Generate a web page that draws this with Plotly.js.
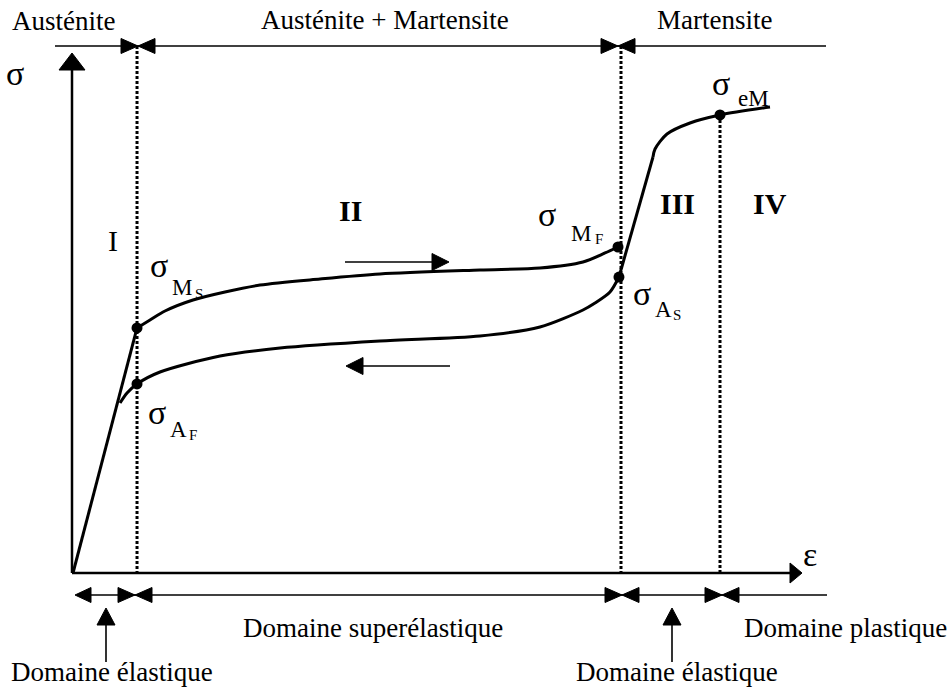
<!DOCTYPE html>
<html><head><meta charset="utf-8">
<script src="https://cdn.plot.ly/plotly-3.0.1.min.js"></script>
<style>html,body{margin:0;padding:0;background:#fff}#c{width:952px;height:689px}</style>
</head><body><div id="c"></div>
<script>
// ---- data (strain ε, stress σ in arbitrary schematic units) ----
const elasticStrain = [0, 0.877];
const elasticStress = [0, 4.712];
const loadStrain = [0.877, 1.055, 1.260, 1.644, 2.082, 2.562, 3.384, 4.205, 5.575, 6.397, 6.986, 7.288, 7.466];
const loadStress = [4.712, 4.865, 5.038, 5.250, 5.404, 5.538, 5.654, 5.750, 5.827, 5.865, 5.981, 6.154, 6.269];
const martElasticStrain = [7.479, 7.945];
const martElasticStress = [5.692, 8.000];
const martPlasticStrain = [7.945, 7.973, 8.137, 8.452, 8.863, 9.548];
const martPlasticStress = [8.000, 8.154, 8.442, 8.654, 8.808, 8.962];
const unloadStrain = [7.479, 7.356, 7.151, 6.986, 6.397, 5.575, 4.205, 2.836, 2.014, 1.192, 0.877, 0.740, 0.644];
const unloadStress = [5.692, 5.404, 5.192, 5.058, 4.731, 4.558, 4.462, 4.327, 4.173, 3.865, 3.635, 3.462, 3.269];
const pointNames = ['MS', 'AF', 'MF', 'AS', 'eM'];
const pointStrain = [0.877, 0.877, 7.466, 7.479, 8.863];
const pointStress = [4.712, 3.635, 6.269, 5.692, 8.808];
const topLabels = ['Austénite', 'Austénite + Martensite', 'Martensite'];
const zoneLabels = ['I', 'II', 'III', 'IV'];
const bottomLabels = ['Domaine élastique', 'Domaine superélastique', 'Domaine élastique', 'Domaine plastique'];

// ---- layout helpers (pixel -> axis units) ----
const X = px => (px - 73) / 73;
const Y = py => (573 - py) / 52;
const FONT = 'Liberation Serif, Times New Roman, serif';
const K = '#000';

function tri(tx, ty, dir, len, half) {
  let p;
  if (dir === 'r') p = [[tx, ty], [tx - len, ty - half], [tx - len, ty + half]];
  else if (dir === 'l') p = [[tx, ty], [tx + len, ty - half], [tx + len, ty + half]];
  else p = [[tx, ty], [tx - half, ty + len], [tx + half, ty + len]];
  return {type: 'path', xref: 'x', yref: 'y', layer: 'above',
    path: 'M' + p.map(q => X(q[0]) + ',' + Y(q[1])).join(' L') + ' Z',
    fillcolor: K, line: {color: K, width: 1}};
}
function seg(x0, y0, x1, y1, w, dash) {
  return {type: 'line', xref: 'x', yref: 'y', layer: 'above', x0: X(x0), y0: Y(y0), x1: X(x1), y1: Y(y1),
    line: {color: K, width: w, dash: dash || 'solid'}};
}
function txt(t, px, py, size, extra) {
  return Object.assign({text: t, x: X(px), y: Y(py), xref: 'x', yref: 'y', showarrow: false,
    xanchor: 'center', yanchor: 'middle', font: {family: FONT, size: size, color: K}}, extra || {});
}

const lineStyle = {color: K, width: 3};
const traces = [
  {x: elasticStrain, y: elasticStress, mode: 'lines', line: lineStyle},
  {x: loadStrain, y: loadStress, mode: 'lines', line: Object.assign({shape: 'spline', smoothing: 0.8}, lineStyle)},
  {x: martElasticStrain, y: martElasticStress, mode: 'lines', line: lineStyle},
  {x: martPlasticStrain, y: martPlasticStress, mode: 'lines', line: Object.assign({shape: 'spline', smoothing: 0.8}, lineStyle)},
  {x: unloadStrain, y: unloadStress, mode: 'lines', line: Object.assign({shape: 'spline', smoothing: 0.8}, lineStyle)},
  {x: pointStrain, y: pointStress, text: pointNames, mode: 'markers', marker: {color: K, size: 11}}
];

const dot = '3px,2px';
const shapes = [
  // axes
  seg(72, 573, 72, 69, 2.5), tri(72, 53, 'u', 17, 13),
  seg(72, 573, 792, 573, 2.5), tri(802, 573, 'r', 12, 10),
  // dotted verticals
  {type: 'line', xref: 'x', yref: 'y', x0: pointStrain[0], x1: pointStrain[0], y0: Y(46), y1: 0, line: {color: K, width: 3, dash: dot}},
  {type: 'line', xref: 'x', yref: 'y', x0: X(621), x1: X(621), y0: Y(46), y1: 0, line: {color: K, width: 3, dash: dot}},
  {type: 'line', xref: 'x', yref: 'y', x0: pointStrain[4], x1: pointStrain[4], y0: pointStress[4], y1: 0, line: {color: K, width: 3, dash: dot}},
  // top phase line
  seg(55, 46, 826, 46, 1.6),
  tri(138, 46, 'r', 17, 7.5), tri(138, 46, 'l', 17, 7.5),
  tri(618, 46, 'r', 17, 7.5), tri(618, 46, 'l', 17, 7.5),
  // bottom domain line
  seg(80, 595, 827, 595, 1.6),
  tri(75, 595, 'l', 16, 7.5),
  tri(135, 595, 'r', 17, 7.5), tri(135, 595, 'l', 17, 7.5),
  tri(622, 595, 'r', 17, 7.5), tri(622, 595, 'l', 17, 7.5),
  tri(722, 595, 'r', 17, 7.5), tri(722, 595, 'l', 17, 7.5),
  // small up arrows
  seg(106, 662, 106, 622, 1.6), tri(106, 608, 'u', 17, 9),
  seg(672, 662, 672, 622, 1.6), tri(672, 608, 'u', 17, 9),
  // loading / unloading arrows
  seg(345, 262, 434, 262, 1.6), tri(449, 262, 'r', 17, 8.5),
  seg(361, 366, 450, 366, 1.6), tri(346, 366, 'l', 17, 8.5)
];

const ann = [
  txt(topLabels[0], 63, 21, 27), txt(topLabels[1], 385, 20, 27), txt(topLabels[2], 714, 20, 27),
  txt('σ', 15, 73, 34), txt('ε', 810, 554, 34),
  txt(zoneLabels[0], 113, 240, 30),
  txt('<b>' + zoneLabels[1] + '</b>', 350, 210, 30),
  txt('<b>' + zoneLabels[2] + '</b>', 677, 203, 30),
  txt('<b>' + zoneLabels[3] + '</b>', 770, 203, 30),
  txt(bottomLabels[0], 112, 672, 27), txt(bottomLabels[1], 373, 628, 27),
  txt(bottomLabels[2], 677, 672, 27), txt(bottomLabels[3], 845, 628, 27),
  // σ_MS
  txt('σ', 159, 265, 34), txt('M', 182, 287, 23), txt('S', 199, 294, 15),
  // σ_AF
  txt('σ', 157, 412, 34), txt('A', 178, 429, 23), txt('F', 193, 435, 15),
  // σ_MF
  txt('σ', 547, 214, 34), txt('M', 581, 233, 23), txt('F', 599, 239, 15),
  // σ_AS
  txt('σ', 642, 293, 34), txt('A', 663, 309, 23), txt('S', 677, 315, 15),
  // σ_eM
  txt('σ', 721, 83, 34), txt('eM', 753, 98, 23)
];

const layout = {
  width: 952, height: 689, margin: {l: 0, r: 0, t: 0, b: 0},
  paper_bgcolor: '#fff', plot_bgcolor: '#fff', showlegend: false,
  xaxis: {range: [X(0), X(952)], visible: false, fixedrange: true},
  yaxis: {range: [Y(689), Y(0)], visible: false, fixedrange: true},
  shapes: shapes, annotations: ann
};
Plotly.newPlot('c', traces, layout, {staticPlot: true, displayModeBar: false});
</script>
</body></html>
